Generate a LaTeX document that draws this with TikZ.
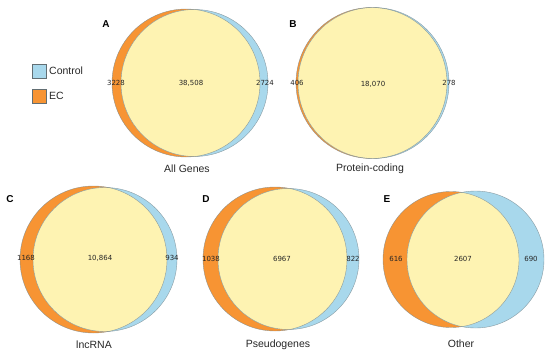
\documentclass[tikz,border=0pt]{standalone}
\usepackage{fontspec}
\setmainfont{Liberation Sans}
\newfontfamily\numfont{DejaVu Sans}
\definecolor{ecorange}{HTML}{F79433}
\definecolor{ctrlblue}{HTML}{A8D8EC}
\definecolor{interyel}{HTML}{FEF3B2}
\definecolor{edgegray}{HTML}{7A8A90}
\tikzset{
  num/.style={font=\numfont\fontsize{7}{8}\selectfont, inner sep=0pt, text=black!85},
  ttl/.style={font=\fontsize{10.5}{12}\selectfont, inner sep=0pt, text=black!85},
  plet/.style={font=\bfseries\fontsize{10}{12}\selectfont, inner sep=0pt},
  legbox/.style={draw=edgegray!80!black, line width=0.8pt, minimum width=14pt, minimum height=14pt, inner sep=0pt},
}
% #1 orange cx, #2 orange r, #3 blue cx, #4 blue r, #5 cy
\newcommand{\myvenn}[5]{%
  \fill[ecorange] (#1,#5) circle (#2);
  \fill[ctrlblue] (#3,#5) circle (#4);
  \begin{scope}
    \clip (#1,#5) circle (#2);
    \fill[interyel] (#3,#5) circle (#4);
  \end{scope}
  \draw[edgegray, line width=0.4pt, opacity=0.8] (#1,#5) circle (#2);
  \draw[edgegray, line width=0.4pt, opacity=0.8] (#3,#5) circle (#4);
}
\begin{document}
\begin{tikzpicture}[x=1pt,y=-1pt]
\useasboundingbox (0,0) rectangle (550,356);
% Legend
\node[legbox, fill=ctrlblue] (lc) at (39.5,71.5) {};
\node[ttl, anchor=west] (lct) at (49,71) {Control};
\node[legbox, fill=ecorange] (le) at (39.5,96.5) {};
\node[ttl, anchor=west] (let) at (49,96) {EC};
% A
\myvenn{186}{74}{194.5}{73.5}{83}
\node[plet] (la) at (106,24) {A};
\node[num] (a1) at (116,83) {3228};
\node[num] (a2) at (191,83) {38,508};
\node[num] (a3) at (265,83) {2724};
\node[ttl] (at) at (187,169) {All Genes};
% B
\myvenn{371.5}{75.5}{373.5}{75.5}{83}
\node[plet] (lb) at (293,24) {B};
\node[num] (b1) at (297,83) {406};
\node[num] (b2) at (373,84) {18,070};
\node[num] (b3) at (449,83) {278};
\node[ttl] (bt) at (370,169) {Protein-coding};
% C
\myvenn{93.5}{73.5}{105}{72}{259.5}
\node[plet] (lcc) at (10,199) {C};
\node[num] (c1) at (26,258) {1168};
\node[num] (c2) at (100,258) {10,864};
\node[num] (c3) at (172,258) {934};
\node[ttl] (ct) at (94,345) {lncRNA};
% D
\myvenn{275}{72}{288.5}{70.5}{259}
\node[plet] (ld) at (206,199) {D};
\node[num] (d1) at (211,259) {1038};
\node[num] (d2) at (282,259) {6967};
\node[num] (d3) at (353,259) {822};
\node[ttl] (dt) at (278,345) {Pseudogenes};
% E
\myvenn{451}{68}{475.5}{68.5}{259.5}
\node[plet] (lee) at (387,199) {E};
\node[num] (e1) at (396,259) {616};
\node[num] (e2) at (463,259) {2607};
\node[num] (e3) at (531,259) {690};
\node[ttl] (et) at (461,344) {Other};
\end{tikzpicture}
\end{document}
